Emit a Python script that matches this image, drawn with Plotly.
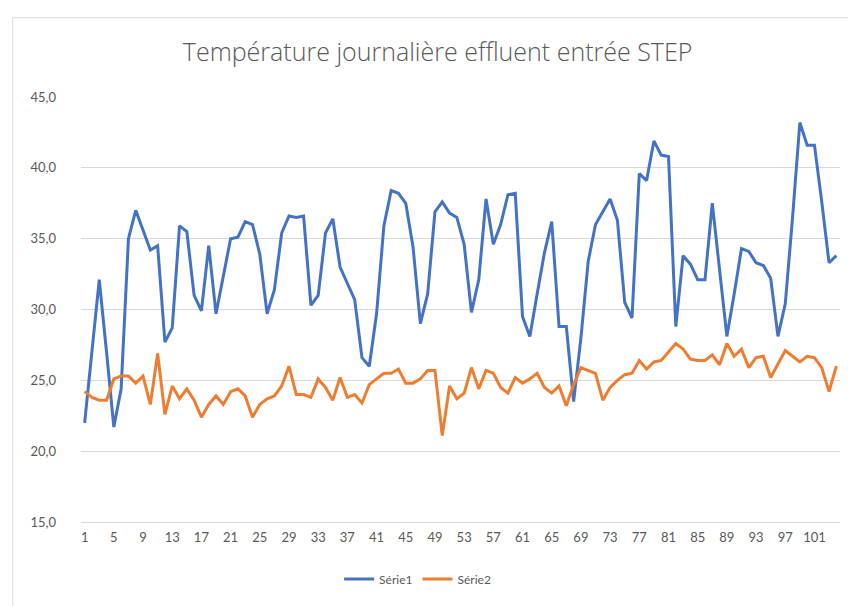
import plotly.graph_objects as go

days = list(range(1, 105))

serie1 = [22.0, 27.0, 32.1, 27.0, 21.7, 24.4, 35.0, 37.0, 35.6, 34.2,
          34.5, 27.7, 28.7, 35.9, 35.5, 31.0, 29.9, 34.5, 29.7, 32.4,
          35.0, 35.1, 36.2, 36.0, 33.9, 29.7, 31.4, 35.4, 36.6, 36.5,
          36.6, 30.3, 31.0, 35.4, 36.4, 33.0, 31.9, 30.7, 26.6, 26.0,
          29.7, 35.9, 38.4, 38.2, 37.5, 34.4, 29.0, 31.1, 36.9, 37.6,
          36.8, 36.5, 34.6, 29.8, 32.1, 37.8, 34.6, 36.0, 38.1, 38.2,
          29.5, 28.1, 31.1, 34.0, 36.2, 28.8, 28.8, 23.5, 28.0, 33.4,
          36.0, 36.9, 37.8, 36.3, 30.5, 29.4, 39.6, 39.1, 41.9, 40.9,
          40.8, 28.8, 33.8, 33.2, 32.1, 32.1, 37.5, 32.8, 28.1, 31.1,
          34.3, 34.1, 33.3, 33.1, 32.2, 28.1, 30.4, 36.5, 43.2, 41.6,
          41.6, 37.6, 33.3, 33.8]

serie2 = [24.2, 23.8, 23.6, 23.6, 25.1, 25.3, 25.3, 24.8, 25.3, 23.3,
          26.9, 22.6, 24.6, 23.7, 24.4, 23.6, 22.4, 23.3, 23.9, 23.3,
          24.2, 24.4, 23.9, 22.4, 23.3, 23.7, 23.9, 24.6, 26.0, 24.0,
          24.0, 23.8, 25.1, 24.5, 23.6, 25.2, 23.8, 24.0, 23.4, 24.7,
          25.1, 25.5, 25.5, 25.8, 24.8, 24.8, 25.1, 25.7, 25.7, 21.1,
          24.6, 23.7, 24.1, 25.9, 24.4, 25.7, 25.5, 24.5, 24.1, 25.2,
          24.8, 25.1, 25.5, 24.5, 24.1, 24.6, 23.2, 24.7, 25.9, 25.7,
          25.5, 23.6, 24.5, 25.0, 25.4, 25.5, 26.4, 25.8, 26.3, 26.4,
          27.0, 27.6, 27.2, 26.5, 26.4, 26.4, 26.8, 26.1, 27.6, 26.7,
          27.2, 25.9, 26.6, 26.7, 25.2, 26.1, 27.1, 26.7, 26.3, 26.7,
          26.6, 25.9, 24.2, 26.0]

x_ticks = list(range(1, 105, 4))
y_ticks = [15, 20, 25, 30, 35, 40, 45]

title_text = "Température journalière effluent entrée STEP"
names = ["Série1", "Série2"]
colors = ["#4472C4", "#ED7D31"]

FONT = "Lato"
GREY = "#595959"

fig = go.Figure()
for name, vals, col in zip(names, [serie1, serie2], colors):
    fig.add_trace(go.Scatter(x=days, y=vals, mode="lines", name=name,
                             line=dict(color=col, width=3)))

W, H = 856, 606
ml, mr, mt, mb = 73.3, 23.5, 89.3, 92
pw = W - ml - mr
ph = H - mt - mb

def px(x):
    return (x - ml) / pw

def py(y):
    return (H - mb - y) / ph

fig.add_shape(type="rect", xref="paper", yref="paper",
              x0=px(5), x1=px(851), y0=py(603), y1=py(10),
              line=dict(color="#d9d9d9", width=1), fillcolor="rgba(0,0,0,0)",
              layer="below")

fig.update_layout(
    width=W, height=H,
    margin=dict(l=ml, r=mr, t=mt, b=mb),
    paper_bgcolor="white", plot_bgcolor="white",
    separators=", ",
    font=dict(family=FONT, color=GREY, size=13),
    title=dict(text=title_text, x=px(430), xref="paper", xanchor="center",
               y=1 - 44 / H, yref="container", yanchor="middle",
               font=dict(family="Open Sans", size=25, color=GREY, weight=300)),
    showlegend=True,
    legend=dict(orientation="h", x=px(410), xanchor="center", xref="paper",
                y=py(571), yanchor="middle", font=dict(size=12, color=GREY),
                itemwidth=30),
    xaxis=dict(range=[0.5, 104.5], tickmode="array", tickvals=x_ticks,
               ticktext=[str(t) for t in x_ticks], showgrid=False,
               showline=True, linecolor="#d9d9d9", linewidth=1,
               ticks="", ticklabelstandoff=3, zeroline=False,
               tickfont=dict(size=13, color=GREY)),
    yaxis=dict(range=[15, 45], tickmode="array", tickvals=y_ticks,
               tickformat=".1f", showgrid=True, gridcolor="#d9d9d9",
               gridwidth=1, showline=False, ticks="", zeroline=False,
               ticklabelstandoff=24, tickfont=dict(size=13, color=GREY)),
)

fig.write_html("out.html")
